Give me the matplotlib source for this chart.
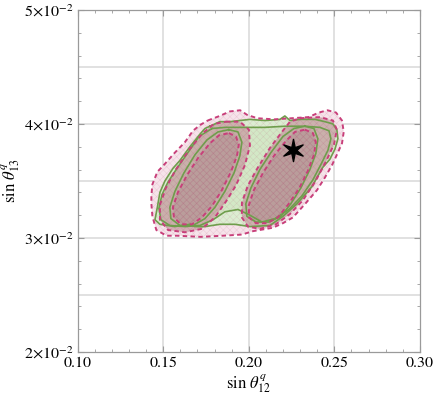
import numpy as np
import matplotlib
matplotlib.use("Agg")
import matplotlib.pyplot as plt
from matplotlib.ticker import FixedLocator, MultipleLocator
from matplotlib.path import Path

plt.rcParams['font.family'] = ['STIXGeneral', 'DejaVu Serif']
plt.rcParams['mathtext.fontset'] = 'stix'
plt.rcParams['hatch.linewidth'] = 0.35

# ---------------- data ----------------
x_ticks = [0.10, 0.15, 0.20, 0.25, 0.30]
x_tick_labels = ["0.10", "0.15", "0.20", "0.25", "0.30"]
y_ticks = [0.02, 0.03, 0.04, 0.05]
y_tick_labels = [r"$2{\times}10^{-2}$", r"$3{\times}10^{-2}$", r"$4{\times}10^{-2}$", r"$5{\times}10^{-2}$"]
x_grid = [0.15, 0.20, 0.25]
y_grid = [0.025, 0.030, 0.035, 0.040, 0.045]

best_fit_x = 0.2256
best_fit_y = 0.0377

# green set: outer, middle, inner (two lobes)
green_outer_x = [0.1773, 0.1831, 0.1890, 0.1948, 0.2007, 0.2095, 0.2182, 0.2211, 0.2241, 0.2299, 0.2387, 0.2445, 0.2492, 0.2515, 0.2521, 0.2504, 0.2474, 0.2433, 0.2369, 0.2282, 0.2200, 0.2124, 0.2007, 0.1919, 0.1831, 0.1744, 0.1685, 0.1656, 0.1569, 0.1481, 0.1452, 0.1466, 0.1481, 0.1510, 0.1557, 0.1598, 0.1656, 0.1715, 0.1744]
green_outer_y = [0.0398, 0.0402, 0.0402, 0.0403, 0.0404, 0.0403, 0.0404, 0.0407, 0.0403, 0.0404, 0.0404, 0.0402, 0.0400, 0.0395, 0.0387, 0.0378, 0.0369, 0.0362, 0.0345, 0.0330, 0.0319, 0.0311, 0.0310, 0.0312, 0.0312, 0.0310, 0.0310, 0.0312, 0.0310, 0.0312, 0.0316, 0.0327, 0.0340, 0.0350, 0.0361, 0.0368, 0.0380, 0.0391, 0.0396]

green_mid_x = [0.1785, 0.1861, 0.1978, 0.2094, 0.2211, 0.2328, 0.2416, 0.2469, 0.2480, 0.2463, 0.2427, 0.2375, 0.2311, 0.2235, 0.2153, 0.2077, 0.2007, 0.1937, 0.1861, 0.1791, 0.1715, 0.1627, 0.1539, 0.1487, 0.1475, 0.1493, 0.1528, 0.1580, 0.1645, 0.1709]
green_mid_y = [0.0396, 0.0397, 0.0397, 0.0397, 0.0398, 0.0398, 0.0397, 0.0394, 0.0387, 0.0377, 0.0366, 0.0351, 0.0337, 0.0325, 0.0317, 0.0314, 0.0320, 0.0325, 0.0323, 0.0316, 0.0311, 0.0310, 0.0311, 0.0316, 0.0326, 0.0338, 0.0349, 0.0361, 0.0375, 0.0389]

green_in_left_x = [0.1884, 0.1937, 0.1960, 0.1948, 0.1914, 0.1861, 0.1803, 0.1744, 0.1674, 0.1598, 0.1545, 0.1539, 0.1569, 0.1621, 0.1686, 0.1756, 0.1820]
green_in_left_y = [0.0395, 0.0393, 0.0384, 0.0372, 0.0357, 0.0341, 0.0327, 0.0317, 0.0311, 0.0311, 0.0317, 0.0327, 0.0341, 0.0357, 0.0373, 0.0386, 0.0393]

green_in_right_x = [0.2328, 0.2381, 0.2404, 0.2392, 0.2357, 0.2305, 0.2246, 0.2188, 0.2118, 0.2042, 0.1989, 0.1983, 0.2013, 0.2065, 0.2130, 0.2200, 0.2264]
green_in_right_y = [0.0398, 0.0396, 0.0387, 0.0374, 0.0360, 0.0344, 0.0330, 0.0319, 0.0314, 0.0314, 0.0319, 0.0330, 0.0344, 0.0360, 0.0375, 0.0389, 0.0396]

# pink set: outer, middle (two lobes), inner (two lobes)
pink_outer_x = [0.1760, 0.1830, 0.1890, 0.1950, 0.1990, 0.2050, 0.2150, 0.2250, 0.2350, 0.2410, 0.2460, 0.2510, 0.2545, 0.2555, 0.2545, 0.2515, 0.2487, 0.2445, 0.2399, 0.2330, 0.2258, 0.2200, 0.2141, 0.2025, 0.1960, 0.1850, 0.1720, 0.1580, 0.1520, 0.1460, 0.1437, 0.1431, 0.1431, 0.1437, 0.1466, 0.1510, 0.1563, 0.1627, 0.1674, 0.1715]
pink_outer_y = [0.0403, 0.0407, 0.0411, 0.0412, 0.0408, 0.0405, 0.0404, 0.0405, 0.0406, 0.0410, 0.0412, 0.0410, 0.0403, 0.0393, 0.0383, 0.0373, 0.0364, 0.0353, 0.0342, 0.0330, 0.0318, 0.0313, 0.0309, 0.0306, 0.0303, 0.0302, 0.0301, 0.0302, 0.0302, 0.0307, 0.0319, 0.0330, 0.0337, 0.0347, 0.0358, 0.0365, 0.0374, 0.0384, 0.0394, 0.0399]

pink_mid_left_x = [0.1867, 0.1948, 0.2001, 0.2007, 0.1978, 0.1925, 0.1867, 0.1802, 0.1726, 0.1627, 0.1528, 0.1481, 0.1481, 0.1516, 0.1574, 0.1650, 0.1732, 0.1796]
pink_mid_left_y = [0.0402, 0.0402, 0.0395, 0.0381, 0.0364, 0.0346, 0.0332, 0.0318, 0.0308, 0.0305, 0.0307, 0.0316, 0.0329, 0.0344, 0.0360, 0.0377, 0.0392, 0.0400]

pink_mid_right_x = [0.2299, 0.2416, 0.2492, 0.2515, 0.2498, 0.2451, 0.2387, 0.2316, 0.2241, 0.2159, 0.2065, 0.1995, 0.1960, 0.1960, 0.1995, 0.2054, 0.2124, 0.2194, 0.2241]
pink_mid_right_y = [0.0405, 0.0406, 0.0403, 0.0395, 0.0382, 0.0367, 0.0349, 0.0333, 0.0321, 0.0312, 0.0308, 0.0310, 0.0318, 0.0331, 0.0346, 0.0362, 0.0379, 0.0393, 0.0402]

pink_in_left_x = [0.1884, 0.1925, 0.1942, 0.1931, 0.1896, 0.1843, 0.1785, 0.1726, 0.1668, 0.1604, 0.1563, 0.1557, 0.1586, 0.1639, 0.1703, 0.1773, 0.1826]
pink_in_left_y = [0.0392, 0.0389, 0.0382, 0.0372, 0.0358, 0.0342, 0.0328, 0.0318, 0.0312, 0.0312, 0.0318, 0.0327, 0.0340, 0.0355, 0.0370, 0.0383, 0.0390]

pink_in_right_x = [0.2328, 0.2375, 0.2392, 0.2381, 0.2346, 0.2293, 0.2229, 0.2170, 0.2106, 0.2042, 0.2001, 0.2001, 0.2030, 0.2083, 0.2147, 0.2217, 0.2270]
pink_in_right_y = [0.0395, 0.0392, 0.0384, 0.0373, 0.0359, 0.0343, 0.0329, 0.0318, 0.0313, 0.0313, 0.0318, 0.0329, 0.0342, 0.0357, 0.0372, 0.0385, 0.0393]

# ---------------- figure ----------------
fig = plt.figure(figsize=(4.36, 3.96), dpi=100)
ax = fig.add_axes([0.178, 0.111, 0.785, 0.864])

green_line = '#6f9d4c'
pink_line = '#c83f7a'
hatch_col = (0.72, 0.30, 0.45, 0.18)

def closed(xs, ys):
    return list(xs) + [xs[0]], list(ys) + [ys[0]]

def hatch(xs, ys, z):
    ax.fill(xs, ys, facecolor='none', edgecolor=hatch_col, lw=0,
            hatch='xxxxx', zorder=z)

# layered fills
ax.fill(pink_outer_x, pink_outer_y, color='#f6e3ea', lw=0, zorder=2)
hatch(pink_outer_x, pink_outer_y, 2.05)
ax.fill(green_outer_x, green_outer_y, color='#dcedd2', lw=0, zorder=2.1)
ax.fill(green_mid_x, green_mid_y, color='#d3e8c6', lw=0, zorder=2.2)
hatch(green_outer_x, green_outer_y, 2.25)
for xs, ys in [(pink_mid_left_x, pink_mid_left_y), (pink_mid_right_x, pink_mid_right_y)]:
    ax.fill(xs, ys, color=(0.78, 0.62, 0.64), alpha=0.75, lw=0, zorder=2.3)
    hatch(xs, ys, 2.35)
for xs, ys in [(green_in_left_x, green_in_left_y), (green_in_right_x, green_in_right_y)]:
    ax.fill(xs, ys, color=(0.60, 0.58, 0.48), alpha=0.10, lw=0, zorder=2.4)
for xs, ys in [(pink_in_left_x, pink_in_left_y), (pink_in_right_x, pink_in_right_y)]:
    ax.fill(xs, ys, color=(0.62, 0.46, 0.50), alpha=0.28, lw=0, zorder=2.5)
    hatch(xs, ys, 2.55)

for xs, ys in [(green_outer_x, green_outer_y), (green_mid_x, green_mid_y),
               (green_in_left_x, green_in_left_y), (green_in_right_x, green_in_right_y)]:
    cx, cy = closed(xs, ys)
    ax.plot(cx, cy, color=green_line, lw=1.2, zorder=4)

for xs, ys in [(pink_outer_x, pink_outer_y), (pink_mid_left_x, pink_mid_left_y),
               (pink_mid_right_x, pink_mid_right_y), (pink_in_left_x, pink_in_left_y),
               (pink_in_right_x, pink_in_right_y)]:
    cx, cy = closed(xs, ys)
    ax.plot(cx, cy, color=pink_line, lw=1.4, ls=(0, (2.3, 1.7)), zorder=5)

# six-pointed spiky star marker
ang = np.deg2rad(90 + 30 * np.arange(12))
rad = np.where(np.arange(12) % 2 == 0, 1.0, 0.3)
star = Path(np.column_stack([rad * np.cos(ang), rad * np.sin(ang)]).tolist()
            + [[0.0, 1.0]], closed=True)
ax.plot([best_fit_x], [best_fit_y], marker=star, color='black',
        markersize=16, ls='none', zorder=6)

ax.set_xlim(0.10, 0.30)
ax.set_ylim(0.02, 0.05)

ax.xaxis.set_major_locator(FixedLocator(x_ticks))
ax.set_xticklabels(x_tick_labels)
ax.yaxis.set_major_locator(FixedLocator(y_ticks))
ax.set_yticklabels(y_tick_labels)
ax.xaxis.set_minor_locator(MultipleLocator(0.01))
ax.yaxis.set_minor_locator(MultipleLocator(0.002))

for gx in x_grid:
    ax.axvline(gx, color='#d9d9d9', lw=1.1, zorder=1)
for gy in y_grid:
    ax.axhline(gy, color='#d9d9d9', lw=1.1, zorder=1)

ax.tick_params(which='both', direction='in', top=True, right=True,
               color='#9a9a9a', labelsize=11.5, labelcolor='black')
ax.tick_params(which='major', length=4, width=0.8, pad=3)
ax.tick_params(which='minor', length=2.2, width=0.6)
for s in ax.spines.values():
    s.set_color('#9a9a9a')
    s.set_linewidth(0.9)

ax.set_xlabel(r"$\sin\,\theta_{12}^{q}$", fontsize=12, labelpad=2)
ax.set_ylabel(r"$\sin\,\theta_{13}^{q}$", fontsize=12)
ax.yaxis.set_label_coords(-0.163, 0.5)

fig.savefig("out.png", dpi=100)
